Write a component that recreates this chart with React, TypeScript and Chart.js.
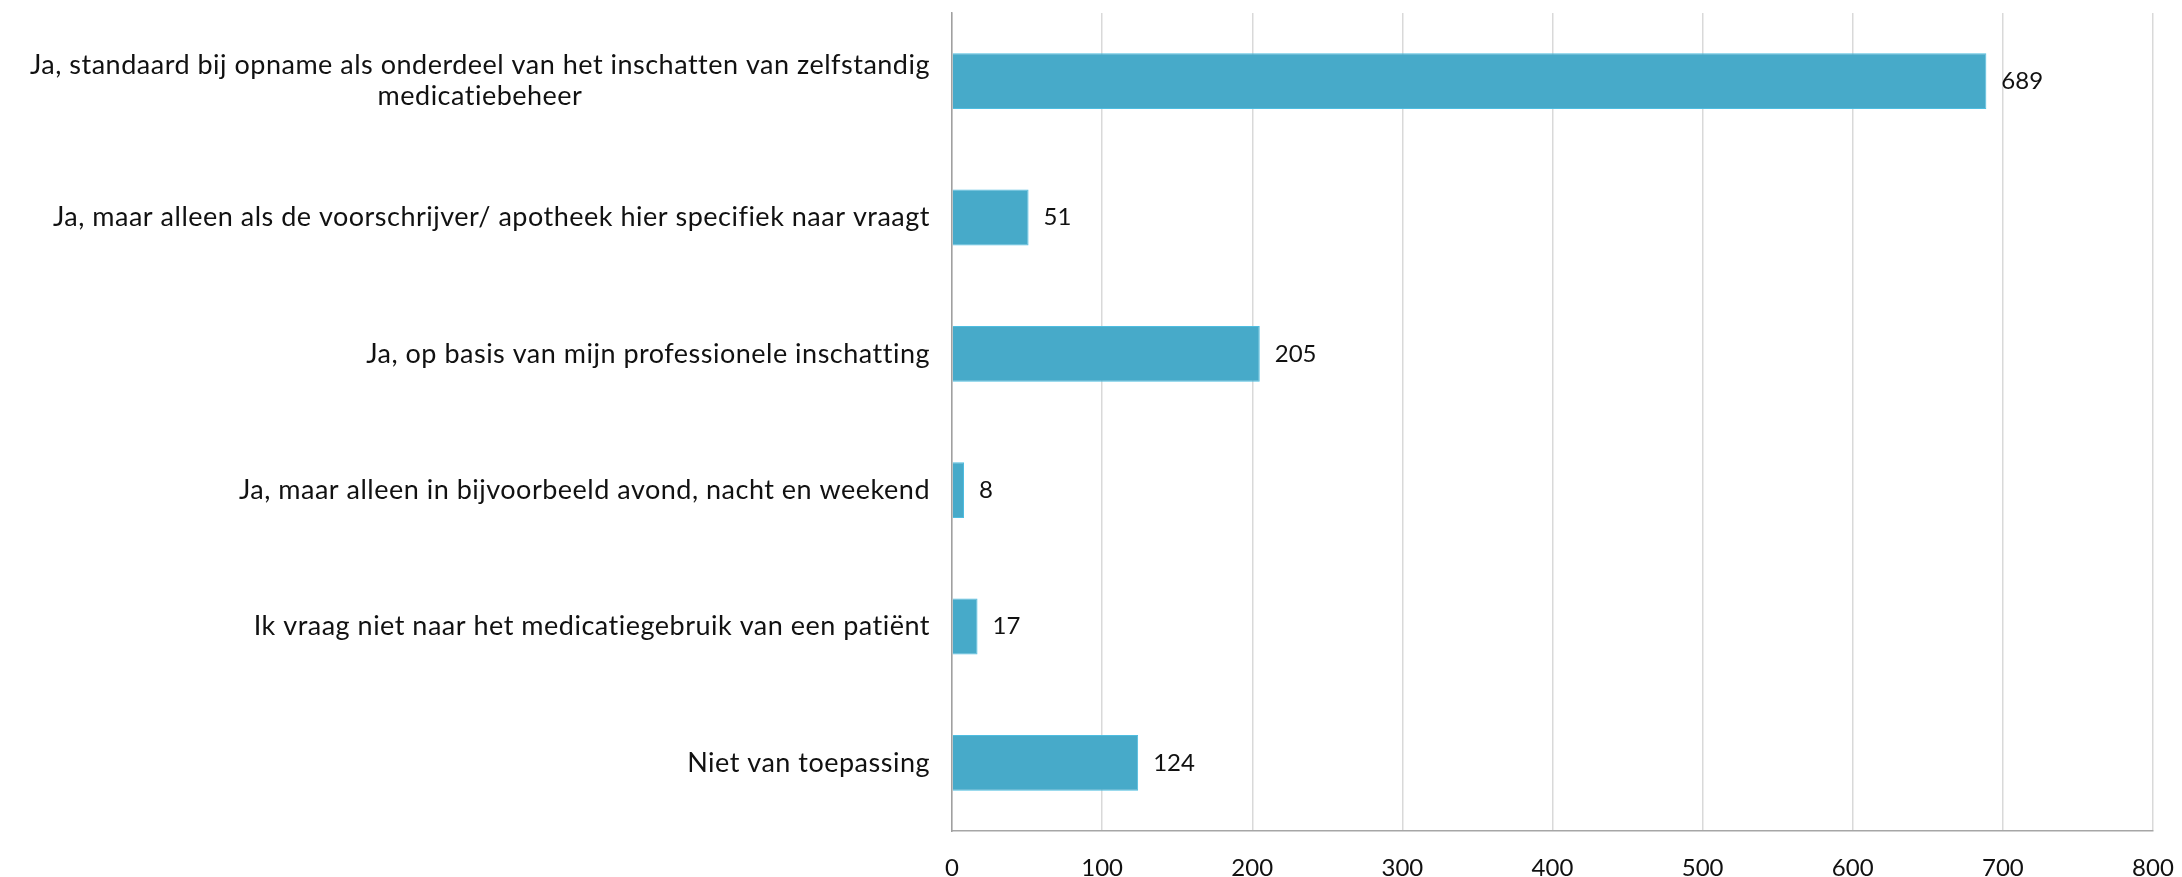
import React, { useEffect, useRef } from "react";
import { Chart, registerables } from "chart.js";

Chart.register(...registerables);

const categories: (string | string[])[] = [
  ["Ja, standaard bij opname als onderdeel van het inschatten van zelfstandig", "medicatiebeheer"],
  "Ja, maar alleen als de voorschrijver/ apotheek hier specifiek naar vraagt",
  "Ja, op basis van mijn professionele inschatting",
  "Ja, maar alleen in bijvoorbeeld avond, nacht en weekend",
  "Ik vraag niet naar het medicatiegebruik van een patiënt",
  "Niet van toepassing",
];
const values: number[] = [689, 51, 205, 8, 17, 124];
const xTicks: number[] = [0, 100, 200, 300, 400, 500, 600, 700, 800];

const FONT_FAMILY = "Lato, 'Open Sans', sans-serif";
const LABEL_SIZE = 27;
const VALUE_SIZE = 24;
const TICK_SIZE = 24;
const TEXT_COLOR = "#111111";

const labelPlugin = {
  id: "customLabels",
  afterDraw(chart: any) {
    const ctx = chart.ctx as any;
    const yScale = chart.scales.y;
    const xScale = chart.scales.x;
    ctx.save();
    ctx.font = `${LABEL_SIZE}px ${FONT_FAMILY}`;
    ctx.letterSpacing = "0.5px";
    ctx.fillStyle = TEXT_COLOR;
    ctx.textBaseline = "middle";
    const lineHeight = 31;
    const right = chart.chartArea.left - 22;
    categories.forEach((lab, i) => {
      const lines = Array.isArray(lab) ? lab : [lab];
      const cy = yScale.getPixelForValue(i);
      const widths = lines.map((l) => ctx.measureText(l).width);
      const maxW = Math.max(...widths);
      ctx.textAlign = "center";
      lines.forEach((l, j) => {
        const ly = cy + (j - (lines.length - 1) / 2) * lineHeight;
        ctx.fillText(l, right - maxW / 2, ly);
      });
    });
    ctx.letterSpacing = "0px";
    ctx.font = `${VALUE_SIZE}px ${FONT_FAMILY}`;
    ctx.textAlign = "left";
    values.forEach((v, i) => {
      const px = xScale.getPixelForValue(v) + 15;
      const py = yScale.getPixelForValue(i);
      ctx.fillText(String(v), px, py);
    });
    ctx.restore();
  },
};

export default function App() {
  const canvasRef = useRef<HTMLCanvasElement | null>(null);

  useEffect(() => {
    document.body.style.margin = "0";
    const canvas = canvasRef.current;
    if (!canvas) return;
    const chart = new Chart(canvas, {
      type: "bar",
      data: {
        labels: categories.map((c) => (Array.isArray(c) ? c.join(" ") : c)),
        datasets: [
          {
            data: values,
            backgroundColor: "#47AAC9",
            borderColor: "#4FBDE0",
            borderWidth: 1,
            categoryPercentage: 1,
            barPercentage: 0.41,
          },
        ],
      },
      options: {
        indexAxis: "y",
        responsive: false,
        animation: false,
        layout: { padding: { top: 13, right: 29, left: 0, bottom: 0 } },
        plugins: {
          legend: { display: false },
          tooltip: { enabled: false },
        },
        scales: {
          x: {
            type: "linear",
            min: xTicks[0],
            max: xTicks[xTicks.length - 1],
            afterBuildTicks: (scale: any) => {
              scale.ticks = xTicks.map((v) => ({ value: v }));
            },
            afterFit: (scale: any) => {
              scale.height = 46;
              scale.paddingLeft = 0;
              scale.paddingRight = 0;
            },
            ticks: {
              stepSize: 100,
              padding: 23,
              color: TEXT_COLOR,
              font: { family: FONT_FAMILY, size: TICK_SIZE },
              maxRotation: 0,
            },
            grid: {
              color: "#D9D9D9",
              lineWidth: 1.5,
              drawTicks: false,
            },
            border: { display: true, color: "#A6A6A6", width: 1.5 },
          },
          y: {
            type: "category",
            afterFit: (scale: any) => {
              scale.width = 952;
            },
            ticks: { display: false },
            grid: { display: false, drawTicks: false },
            border: { display: true, color: "#A0A0A0", width: 1.5 },
          },
        },
      },
      plugins: [labelPlugin],
    } as any);
    return () => chart.destroy();
  }, []);

  return (
    <div style={{ position: "absolute", left: 0, top: 0, width: 2182, height: 877, background: "#fff" }}>
      <canvas ref={canvasRef} width={2182} height={877} style={{ width: 2182, height: 877 }} />
    </div>
  );
}
